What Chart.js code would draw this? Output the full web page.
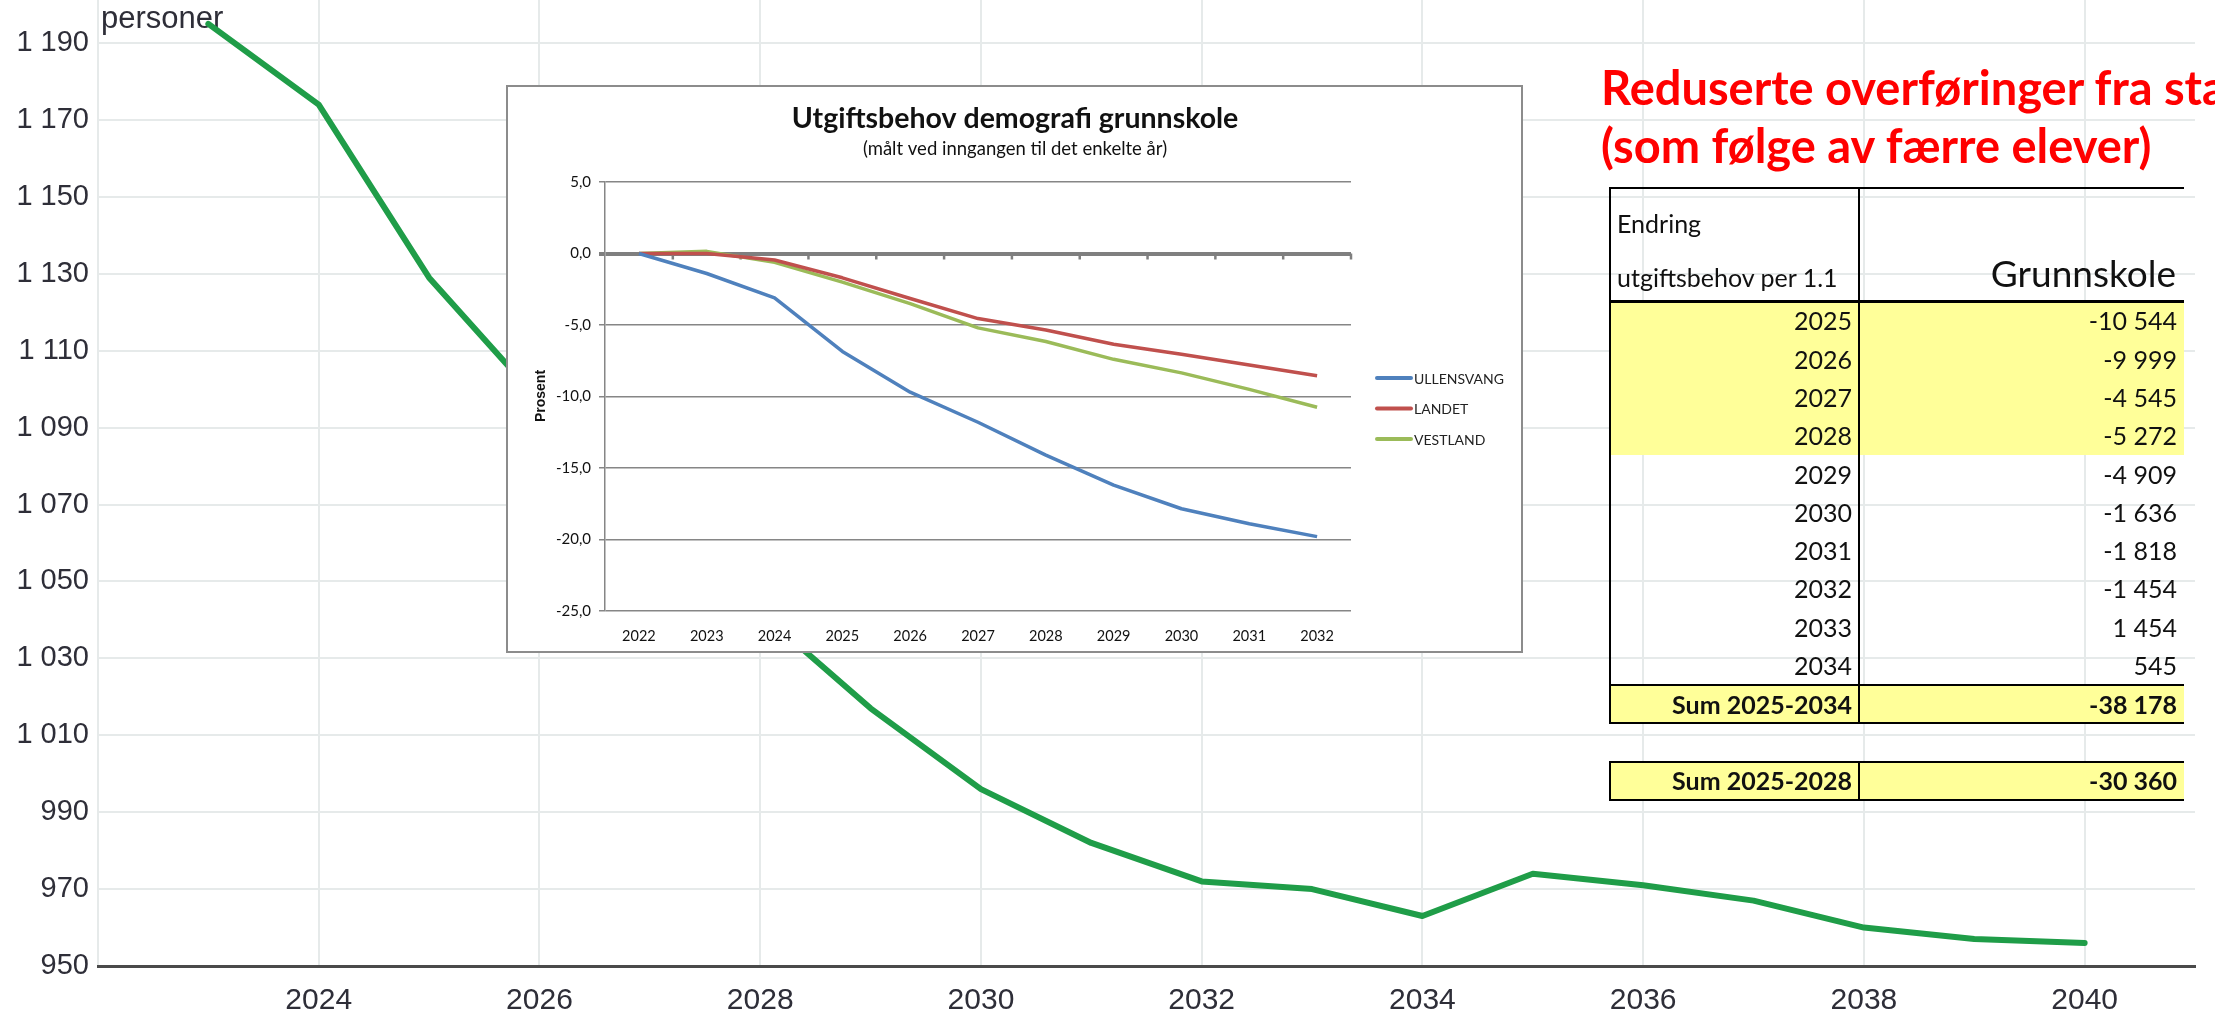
<!DOCTYPE html>
<html>
<head>
<meta charset="utf-8">
<script src="https://cdn.jsdelivr.net/npm/chart.js@4.4.0/dist/chart.umd.min.js"></script>
<style>
    html, body { margin: 0; padding: 0; background: #fff; width: 2215px; height: 1016px; overflow: hidden; position: relative; }
    #bg { position: absolute; left: 0; top: 0; filter: blur(0.5px); }
    #inset { position: absolute; left: 506px; top: 85px; width: 1013px; height: 564px; border: 2px solid #8c8c8c; background: #fff; }
    #inset canvas { position: absolute; left: 0; top: 0; }
    .t { position: absolute; line-height: 1; white-space: nowrap; font-family: Lato, "Open Sans", sans-serif; color: #111; }
    .r { text-align: right; width: 500px; }
    .b { position: absolute; }
</style>
</head>
<body>
<canvas id="bg" width="2215" height="1016"></canvas>
<div id="inset"><canvas id="insetChart" width="1013" height="564"></canvas></div>
<div id="tbl"></div>

<script>
// bakgrunn: antall personer
const bgYears = [2023, 2024, 2025, 2026, 2027, 2028, 2029, 2030, 2031, 2032, 2033, 2034, 2035, 2036, 2037, 2038, 2039, 2040];
const bgPersons = [1195, 1174, 1129, 1097, 1069, 1042, 1017, 996, 982, 972, 970, 963, 974, 971, 967, 960, 957, 956];
const bgTicksX = [2022, 2024, 2026, 2028, 2030, 2032, 2034, 2036, 2038, 2040];
const bgTicksY = [950, 970, 990, 1010, 1030, 1050, 1070, 1090, 1110, 1130, 1150, 1170, 1190];

// innfelt diagram: utgiftsbehov i prosent
const insetYears = ['2022', '2023', '2024', '2025', '2026', '2027', '2028', '2029', '2030', '2031', '2032'];
const ullensvang = [0, -1.4, -3.1, -6.85, -9.7, -11.8, -14.1, -16.2, -17.85, -18.9, -19.8];
const landet = [0, 0, -0.45, -1.7, -3.15, -4.55, -5.35, -6.35, -7.05, -7.8, -8.55];
const vestland = [0, 0.15, -0.62, -2.0, -3.5, -5.2, -6.15, -7.4, -8.35, -9.5, -10.75];

// tabell
const tableYears = [2025, 2026, 2027, 2028, 2029, 2030, 2031, 2032, 2033, 2034];
const tableValues = [-10544, -9999, -4545, -5272, -4909, -1636, -1818, -1454, 1454, 545];

function fmt(v) {
    const s = String(Math.abs(Math.round(v))).replace(/\B(?=(\d{3})+(?!\d))/g, ' ');
    return (v < 0 ? '-' : '') + s;
}

const axisText = '#2e2e38';
const lightGrid = '#e6eaea';

// "personer" under linja
const personerLabel = {
    id: 'personerLabel',
    beforeDatasetsDraw(chart) {
        const ctx = chart.ctx;
        ctx.save();
        ctx.font = '31px "Liberation Sans", Arial, sans-serif';
        ctx.fillStyle = axisText;
        ctx.textBaseline = 'alphabetic';
        ctx.fillText('personer', 101, 28);
        ctx.restore();
    }
};

new Chart(document.getElementById('bg'), {
    type: 'line',
    data: {
        datasets: [{
            data: bgYears.map((y, i) => ({ x: y, y: bgPersons[i] })),
            borderColor: '#1f9d48',
            borderWidth: 6,
            pointRadius: 0,
            tension: 0,
            borderCapStyle: 'round',
            borderJoinStyle: 'round'
        }]
    },
    options: {
        responsive: false,
        animation: false,
        devicePixelRatio: 1,
        layout: { padding: { left: 0, right: 20, top: 0, bottom: 0 } },
        plugins: { legend: { display: false }, tooltip: { enabled: false } },
        scales: {
            x: {
                type: 'linear',
                min: 2022,
                max: 2041,
                afterBuildTicks: (s) => { s.ticks = bgTicksX.map(v => ({ value: v })); },
                afterFit: (s) => { s.height = 50; s.paddingLeft = 0; s.paddingRight = 0; },
                grid: { color: lightGrid, lineWidth: 2, drawTicks: false },
                border: { color: '#4a4a4a', width: 3 },
                ticks: {
                    padding: 17,
                    color: axisText,
                    font: { family: 'Liberation Sans', size: 30 },
                    callback: (v) => (v === 2022 ? '' : String(v))
                }
            },
            y: {
                min: 950,
                max: 1201.2,
                afterBuildTicks: (s) => { s.ticks = bgTicksY.map(v => ({ value: v })); },
                afterFit: (s) => { s.width = 98; s.paddingTop = 0; s.paddingBottom = 0; },
                grid: { color: lightGrid, lineWidth: 2, drawTicks: false },
                border: { display: false },
                ticks: {
                    padding: 9,
                    color: axisText,
                    font: { family: 'Liberation Sans', size: 29 },
                    callback: (v) => fmt(v)
                }
            }
        }
    },
    plugins: [personerLabel]
});

// tittel, forklaring, akseetikett og tikker på 0-linja
const insetDecor = {
    id: 'insetDecor',
    beforeDatasetsDraw(chart) {
        const { ctx, chartArea, scales } = chart;
        const y0 = scales.y.getPixelForValue(0);
        const step = (chartArea.right - chartArea.left) / insetYears.length;
        ctx.save();
        ctx.strokeStyle = '#7f7f7f';
        ctx.lineWidth = 2.5;
        for (let i = 1; i <= insetYears.length; i++) {
            const px = chartArea.left + i * step;
            ctx.beginPath();
            ctx.moveTo(px, y0);
            ctx.lineTo(px, y0 + 6);
            ctx.stroke();
        }
        ctx.restore();
    },
    afterDraw(chart) {
        const ctx = chart.ctx;
        ctx.save();
        ctx.fillStyle = '#111';
        ctx.textAlign = 'center';
        ctx.textBaseline = 'middle';
        ctx.font = 'bold 28.5px Lato, sans-serif';
        ctx.fillText('Utgiftsbehov demografi grunnskole', 507, 32);
        ctx.font = '18.5px Lato, sans-serif';
        ctx.fillText('(målt ved inngangen til det enkelte år)', 507, 62);

        ctx.save();
        ctx.translate(33, 309);
        ctx.rotate(-Math.PI / 2);
        ctx.font = 'bold 14px "Liberation Sans", Arial, sans-serif';
        ctx.fillText('Prosent', 0, 0);
        ctx.restore();

        ctx.textAlign = 'left';
        ctx.font = '14px Lato, sans-serif';
        chart.data.datasets.forEach((ds, i) => {
            const ly = 291 + i * 30.5;
            ctx.strokeStyle = ds.borderColor;
            ctx.lineWidth = 4;
            ctx.lineCap = 'round';
            ctx.beginPath();
            ctx.moveTo(869, ly);
            ctx.lineTo(903, ly);
            ctx.stroke();
            ctx.fillStyle = '#222';
            ctx.fillText(ds.label, 906, ly + 1);
        });
        ctx.restore();
    }
};

const insetLine = { borderWidth: 3.5, pointRadius: 0, tension: 0, borderJoinStyle: 'round' };

new Chart(document.getElementById('insetChart'), {
    type: 'line',
    data: {
        labels: insetYears,
        datasets: [
            Object.assign({ label: 'ULLENSVANG', data: ullensvang, borderColor: '#4f81bd' }, insetLine),
            Object.assign({ label: 'LANDET', data: landet, borderColor: '#c0504d' }, insetLine),
            Object.assign({ label: 'VESTLAND', data: vestland, borderColor: '#9bbb59' }, insetLine)
        ]
    },
    options: {
        responsive: false,
        animation: false,
        devicePixelRatio: 1,
        layout: { padding: { left: 0, top: 95, right: 170, bottom: 0 } },
        plugins: { legend: { display: false }, tooltip: { enabled: false } },
        scales: {
            x: {
                offset: true,
                grid: { display: false },
                border: { display: false },
                afterFit: (s) => { s.height = 40; s.paddingLeft = 0; s.paddingRight = 0; },
                ticks: { padding: 9, color: '#111', maxRotation: 0, autoSkip: false, font: { family: 'Lato', size: 14.5 } }
            },
            y: {
                min: -25,
                max: 5,
                afterFit: (s) => { s.width = 97; s.paddingTop = 0; s.paddingBottom = 0; },
                grid: {
                    color: (c) => (c.tick && c.tick.value === 0 ? '#7f7f7f' : '#868686'),
                    lineWidth: (c) => (c.tick && c.tick.value === 0 ? 4 : 1.5),
                    drawTicks: true,
                    tickLength: 6
                },
                border: { color: '#868686', width: 1.5 },
                ticks: {
                    stepSize: 5,
                    padding: 8,
                    color: '#111',
                    font: { family: 'Lato', size: 15 },
                    callback: (v) => v.toFixed(1).replace('.', ',')
                }
            }
        }
    },
    plugins: [insetDecor]
});

// tabell og rød tekst
const tbl = document.getElementById('tbl');

function rect(l, t, w, h, color) {
    const d = document.createElement('div');
    d.className = 'b';
    d.style.cssText = `left:${l}px;top:${t}px;width:${w}px;height:${h}px;background:${color};`;
    tbl.appendChild(d);
}

function text(str, x, baseline, size, opts = {}) {
    const d = document.createElement('div');
    d.className = 't' + (opts.right ? ' r' : '');
    d.textContent = str;
    d.style.fontSize = size + 'px';
    d.style.top = (baseline - 0.887 * size) + 'px';
    d.style.left = (opts.right ? x - 500 : x) + 'px';
    if (opts.bold) d.style.fontWeight = 'bold';
    if (opts.color) d.style.color = opts.color;
    tbl.appendChild(d);
}

text('Reduserte overføringer fra staten', 1601, 106, 47, { bold: true, color: '#ff0000' });
text('(som følge av færre elever)', 1601, 164, 47, { bold: true, color: '#ff0000' });

const rowTop = 302;
const rowH = 38.3;
const yellow = '#ffff99';

rect(1610, rowTop, 574, rowH * 4, yellow);
rect(1610, 685, 574, 38, yellow);
rect(1610, 762, 574, 38, yellow);

text('Endring', 1617, 233, 25);
text('utgiftsbehov per 1.1', 1617, 287, 25);
text('Grunnskole', 2176, 287, 37, { right: true });

tableYears.forEach((yr, i) => {
    const base = rowTop + i * rowH + 28.5;
    text(String(yr), 1852, base, 25, { right: true });
    text(fmt(tableValues[i]), 2177, base, 25, { right: true });
});

const sumAll = tableValues.reduce((a, b) => a + b, 0);
const sumFirst = tableValues.slice(0, 4).reduce((a, b) => a + b, 0);
text('Sum 2025-2034', 1852, 714, 25, { right: true, bold: true });
text(fmt(sumAll), 2177, 714, 25, { right: true, bold: true });
text('Sum 2025-2028', 1852, 790.5, 25, { right: true, bold: true });
text(fmt(sumFirst), 2177, 790.5, 25, { right: true, bold: true });

// rammer
rect(1609, 187, 575, 2, '#000');
rect(1609, 187, 2, 537, '#000');
rect(1858, 187, 2, 537, '#000');
rect(1609, 300, 575, 2.5, '#000');
rect(1609, 684, 575, 2, '#000');
rect(1609, 722, 575, 2, '#000');
rect(1609, 761, 575, 2, '#000');
rect(1609, 799, 575, 2, '#000');
rect(1609, 761, 2, 40, '#000');
rect(1858, 761, 2, 40, '#000');
</script>
</body>
</html>
